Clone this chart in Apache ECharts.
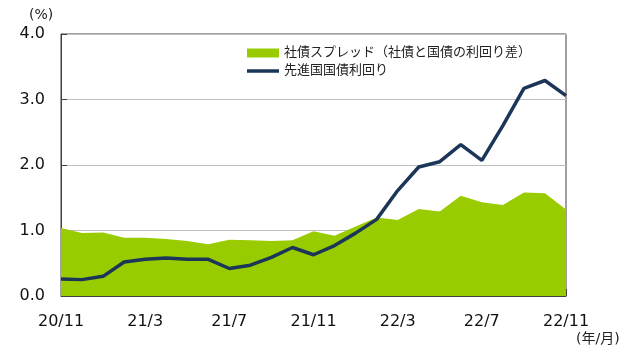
<!DOCTYPE html>
<html>
<head>
<meta charset="utf-8">
<script src="https://cdn.jsdelivr.net/npm/echarts@6/dist/echarts.min.js"></script>
<style>
  html, body { margin: 0; padding: 0; background: #fff; }
  #chart { width: 640px; height: 354px; }
</style>
</head>
<body>
<div id="chart"></div>
<script>
// 年/月
const months = [
  '20/11', '20/12', '21/1', '21/2', '21/3', '21/4', '21/5', '21/6', '21/7',
  '21/8', '21/9', '21/10', '21/11', '21/12', '22/1', '22/2', '22/3', '22/4',
  '22/5', '22/6', '22/7', '22/8', '22/9', '22/10', '22/11'
]
// 社債スプレッド（社債と国債の利回り差）
const spread = [
  1.04, 0.96, 0.97, 0.89, 0.89, 0.87, 0.84, 0.79, 0.86, 0.85, 0.84, 0.85, 0.99,
  0.92, 1.06, 1.20, 1.16, 1.33, 1.29, 1.53, 1.43, 1.39, 1.58, 1.57, 1.32
]
// 先進国国債利回り
const yields = [
  0.26, 0.25, 0.30, 0.52, 0.56, 0.58, 0.56, 0.56, 0.42, 0.47, 0.59, 0.74, 0.63,
  0.77, 0.96, 1.17, 1.61, 1.97, 2.05, 2.31, 2.07, 2.60, 3.17, 3.29, 3.06
]
const yTicks = [0, 1, 2, 3, 4]

const font = '"DejaVu Sans", "Noto Sans CJK JP", sans-serif'
const axisColor = '#404040'

const chart = echarts.init(document.getElementById('chart'))

const option = {
  animation: false,
  textStyle: { fontFamily: font },
  grid: {
    left: 61, right: 74, top: 34, bottom: 58,
    show: true,
    borderColor: axisColor,
    borderWidth: 1
  },
  legend: {
    left: 242,
    top: 41,
    orient: 'vertical',
    itemWidth: 32,
    itemHeight: 9,
    itemGap: 4,
    textStyle: { fontFamily: font, fontSize: 13, color: '#222', lineHeight: 14 },
    data: [
      { name: '社債スプレッド（社債と国債の利回り差）', icon: 'rect' },
      { name: '先進国国債利回り', icon: 'path://M0,0L32,0L32,3.5L0,3.5Z' }
    ]
  },
  xAxis: {
    type: 'category',
    data: months,
    boundaryGap: false,
    axisLine: { lineStyle: { color: axisColor, width: 1 } },
    axisTick: { inside: true, length: 7, interval: 3, lineStyle: { color: axisColor } },
    axisLabel: { interval: 3, fontSize: 16, color: '#111', margin: 18, fontFamily: font },
    splitLine: { show: false }
  },
  yAxis: {
    type: 'value',
    min: yTicks[0],
    max: yTicks[yTicks.length - 1],
    interval: 1,
    axisLine: { show: true, lineStyle: { color: axisColor, width: 1 } },
    axisTick: { show: true, inside: true, length: 6, lineStyle: { color: axisColor } },
    axisLabel: {
      fontSize: 16, color: '#111', margin: 16, fontFamily: font,
      padding: [3, 0, 0, 0],
      formatter: v => v.toFixed(1)
    },
    splitLine: { lineStyle: { color: '#bfbfbf', width: 1 } }
  },
  graphic: [
    { type: 'text', left: 29, top: 8, style: { text: '(%)', font: '14px ' + font, fill: '#222' } },
    { type: 'text', left: 576, top: 332, style: { text: '(年/月)', font: '14px ' + font, fill: '#222' } }
  ],
  series: [
    {
      name: '社債スプレッド（社債と国債の利回り差）',
      type: 'line',
      data: spread,
      symbol: 'none',
      lineStyle: { width: 0, color: '#99cc00' },
      itemStyle: { color: '#99cc00' },
      areaStyle: { color: '#99cc00', opacity: 1 },
      z: 2
    },
    {
      name: '先進国国債利回り',
      type: 'line',
      data: yields,
      symbol: 'none',
      lineStyle: { width: 3.5, color: '#1b3658' },
      itemStyle: { color: '#1b3658' },
      z: 3
    }
  ]
}

chart.setOption(option)
</script>
</body>
</html>
